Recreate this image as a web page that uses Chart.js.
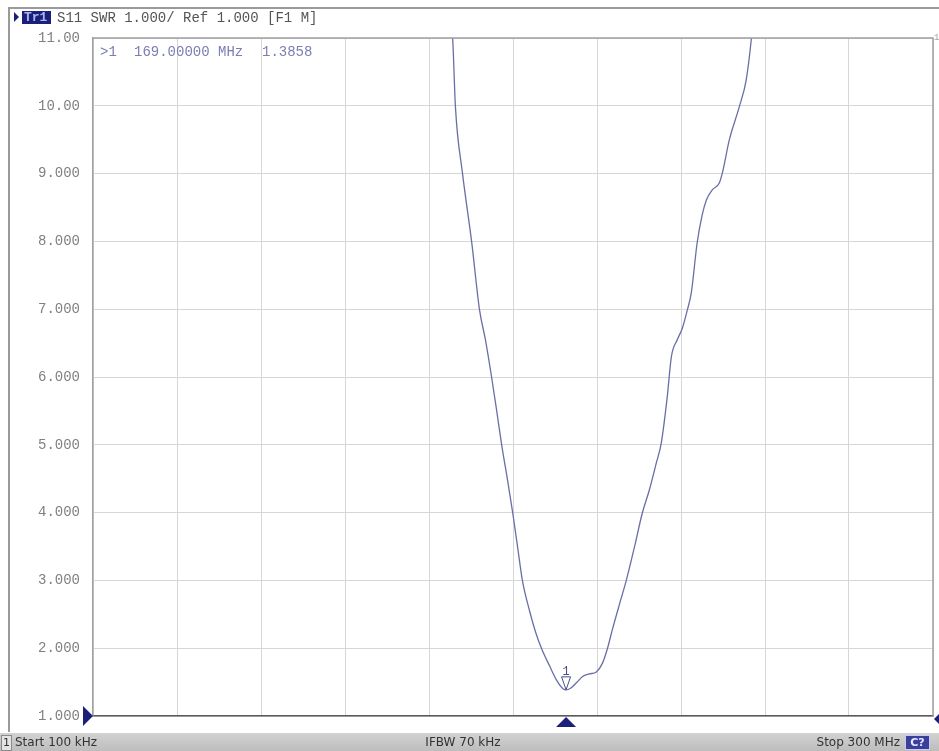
<!DOCTYPE html>
<html>
<head>
<meta charset="utf-8">
<script src="https://cdn.jsdelivr.net/npm/chart.js@4.4.1/dist/chart.umd.min.js"></script>
<style>
  html, body { margin: 0; padding: 0; background: #ffffff; }
  #c { display: block; }
</style>
</head>
<body>
<canvas id="c" width="939" height="751"></canvas>
<script>
// ---- data (frequency in MHz, SWR) ----
const freqMHz = [127.4, 128.5, 129.5, 132.0, 135.3, 138.1, 140.2, 142.4, 144.2, 146.0,
  148.1, 149.9, 151.7, 153.4, 155.9, 158.1, 160.2, 163.1, 165.6, 168.0,
  169.0, 170.6, 172.7, 174.8, 177.3, 179.8, 182.0, 183.8, 185.5, 188.0,
  190.5, 193.4, 196.2, 198.7, 201.2, 203.0, 205.1, 206.6, 208.7, 210.5,
  212.3, 213.7, 215.8, 217.6, 219.1, 221.2, 223.7, 224.8, 227.3, 230.8,
  233.3, 235.1, 235.8];
const swr = [11.4, 11.0, 9.98, 9.01, 7.99, 6.99, 6.55, 6.00, 5.51, 5.00,
  4.48, 4.01, 3.49, 3.00, 2.56, 2.24, 2.00, 1.74, 1.53, 1.40,
  1.386, 1.41, 1.49, 1.58, 1.62, 1.65, 1.78, 2.00, 2.27, 2.64,
  3.00, 3.49, 3.99, 4.33, 4.73, 5.03, 5.70, 6.30, 6.55, 6.72,
  6.99, 7.24, 7.98, 8.39, 8.61, 8.76, 8.86, 9.01, 9.50, 9.98,
  10.38, 10.97, 11.3];
const yTickValues = [1, 2, 3, 4, 5, 6, 7, 8, 9, 10, 11];
const yTickLabels = ['1.000', '2.000', '3.000', '4.000', '5.000', '6.000', '7.000', '8.000', '9.000', '10.00', '11.00'];
const xGridMHz = [0.1, 30.09, 60.08, 90.07, 120.06, 150.05, 180.04, 210.03, 240.02, 270.01, 300];
const startMHz = 0.1;
const stopMHz = 300;
const markerFreq = 169.0;
const markerValue = 1.3858;
const titleText = 'S11 SWR 1.000/ Ref 1.000 [F1 M]';
const markerReadout = ['>1', '169.00000 MHz', '1.3858'];
const statusLeft = 'Start 100 kHz';
const statusMid = 'IFBW 70 kHz';
const statusRight = 'Stop 300 MHz';

const MONO = '"Liberation Mono", "DejaVu Sans Mono", monospace';
const SANS = '"DejaVu Sans", "Liberation Sans", sans-serif';
const NAVY = '#1a1f7a';

const points = freqMHz.map((f, i) => ({ x: f, y: swr[i] }));

function tri(ctx, pts, fill, stroke) {
  ctx.beginPath();
  ctx.moveTo(pts[0][0], pts[0][1]);
  for (let i = 1; i < pts.length; i++) ctx.lineTo(pts[i][0], pts[i][1]);
  ctx.closePath();
  if (fill) { ctx.fillStyle = fill; ctx.fill(); }
  if (stroke) { ctx.strokeStyle = stroke; ctx.lineWidth = 1; ctx.stroke(); }
}

const vnaDecor = {
  id: 'vnaDecor',
  beforeDraw(chart) {
    const ctx = chart.ctx;
    const W = chart.width, H = chart.height;
    ctx.save();
    ctx.fillStyle = '#ffffff';
    ctx.fillRect(0, 0, W, H);
    // outer frame
    ctx.strokeStyle = '#9a9a9a';
    ctx.lineWidth = 2;
    ctx.beginPath();
    ctx.moveTo(9, 732);
    ctx.lineTo(9, 8);
    ctx.lineTo(W, 8);
    ctx.stroke();
    // title bar
    tri(ctx, [[14, 12], [19, 17], [14, 22]], NAVY);
    ctx.fillStyle = NAVY;
    ctx.fillRect(22, 11, 29, 13);
    ctx.font = 'bold 13px ' + MONO;
    ctx.fillStyle = '#aab4f0';
    ctx.textBaseline = 'middle';
    ctx.textAlign = 'left';
    ctx.fillText('Tr1', 24, 18);
    ctx.font = '14px ' + MONO;
    ctx.fillStyle = '#555555';
    ctx.fillText(titleText, 57, 18);
    // status bar
    const g = ctx.createLinearGradient(0, 733, 0, H);
    g.addColorStop(0, '#d2d2d2');
    g.addColorStop(1, '#bdbdbd');
    ctx.fillStyle = g;
    ctx.fillRect(0, 733, W, H - 733);
    ctx.fillStyle = '#e4e4e4';
    ctx.fillRect(1, 735, 10, 15);
    ctx.strokeStyle = '#8a8a8a';
    ctx.lineWidth = 1;
    ctx.strokeRect(1.5, 735.5, 10, 15);
    ctx.font = '11px ' + SANS;
    ctx.fillStyle = '#333333';
    ctx.textBaseline = 'middle';
    ctx.fillText('1', 3, 743);
    ctx.font = '12px ' + SANS;
    ctx.fillText(statusLeft, 15, 743);
    ctx.textAlign = 'center';
    ctx.fillText(statusMid, 463, 743);
    ctx.textAlign = 'right';
    ctx.fillText(statusRight, 900, 743);
    ctx.fillStyle = '#3b3f9c';
    ctx.fillRect(905, 735, 25, 15);
    ctx.strokeStyle = '#c8ccf0';
    ctx.strokeRect(905.5, 735.5, 24, 14);
    ctx.fillStyle = '#e6e8ff';
    ctx.textAlign = 'center';
    ctx.font = 'bold 11px ' + SANS;
    ctx.fillText('C?', 917.5, 743);
    ctx.restore();
  },
  afterDraw(chart) {
    const ctx = chart.ctx;
    const a = chart.chartArea;
    const xs = chart.scales.x, ys = chart.scales.y;
    ctx.save();
    // top & right plot frame
    ctx.strokeStyle = '#a0a0a0';
    ctx.lineWidth = 1.5;
    ctx.beginPath();
    ctx.moveTo(a.left, a.top);
    ctx.lineTo(a.right, a.top);
    ctx.lineTo(a.right, a.bottom);
    ctx.stroke();
    ctx.fillStyle = '#a0a0a0';
    ctx.font = '9px ' + MONO;
    ctx.textAlign = 'left';
    ctx.textBaseline = 'middle';
    ctx.fillText('1', a.right + 1, a.top);
    // marker readout
    ctx.font = '14px ' + MONO;
    ctx.fillStyle = '#7a7eb2';
    ctx.fillText(markerReadout[0], a.left + 7, a.top + 14);
    ctx.fillText(markerReadout[1], a.left + 41, a.top + 14);
    ctx.fillText(markerReadout[2], a.left + 169, a.top + 14);
    // marker symbol on trace
    const mx = xs.getPixelForValue(markerFreq);
    const my = ys.getPixelForValue(markerValue);
    tri(ctx, [[mx - 4.5, my - 13], [mx + 4.5, my - 13], [mx, my]], '#ffffff', '#4a4e86');
    ctx.font = '12px ' + MONO;
    ctx.fillStyle = '#4a4e86';
    ctx.textAlign = 'center';
    ctx.textBaseline = 'alphabetic';
    ctx.fillText('1', mx, my - 15);
    // stimulus marker triangle under axis
    tri(ctx, [[mx, a.bottom + 1], [mx + 10, a.bottom + 11], [mx - 10, a.bottom + 11]], NAVY);
    // reference level triangles
    const ry = ys.getPixelForValue(1);
    tri(ctx, [[a.left - 10, ry - 10], [a.left, ry], [a.left - 10, ry + 10]], NAVY);
    tri(ctx, [[a.right + 1, ry + 3], [a.right + 11, ry - 7], [a.right + 11, ry + 13]], NAVY);
    ctx.restore();
  }
};

new Chart(document.getElementById('c'), {
  type: 'line',
  data: {
    datasets: [{
      data: points,
      borderColor: '#6a6ea6',
      borderWidth: 1.3,
      pointRadius: 0,
      cubicInterpolationMode: 'monotone',
      fill: false
    }]
  },
  options: {
    responsive: false,
    devicePixelRatio: 1,
    animation: false,
    events: [],
    layout: { padding: { left: 8, top: 38, right: 6, bottom: 35 } },
    plugins: { legend: { display: false }, tooltip: { enabled: false } },
    scales: {
      x: {
        type: 'linear',
        min: startMHz,
        max: stopMHz,
        afterBuildTicks(scale) { scale.ticks = xGridMHz.map(v => ({ value: v })); },
        afterFit(scale) { scale.height = 0; },
        ticks: { display: false },
        grid: { color: '#d6d6d6', lineWidth: 1, drawTicks: false },
        border: { display: true, color: '#5a5a5a', width: 1.5 }
      },
      y: {
        type: 'linear',
        min: 1,
        max: 11,
        afterBuildTicks(scale) { scale.ticks = yTickValues.map(v => ({ value: v })); },
        afterFit(scale) { scale.width = 85; },
        ticks: {
          padding: 13,
          color: '#808080',
          font: { family: MONO, size: 14 },
          callback: (v) => { const i = yTickValues.indexOf(v); return i >= 0 ? yTickLabels[i] : ''; }
        },
        grid: { color: '#d6d6d6', lineWidth: 1, drawTicks: false },
        border: { display: true, color: '#a0a0a0', width: 1.5 }
      }
    }
  },
  plugins: [vnaDecor]
});
</script>
</body>
</html>
